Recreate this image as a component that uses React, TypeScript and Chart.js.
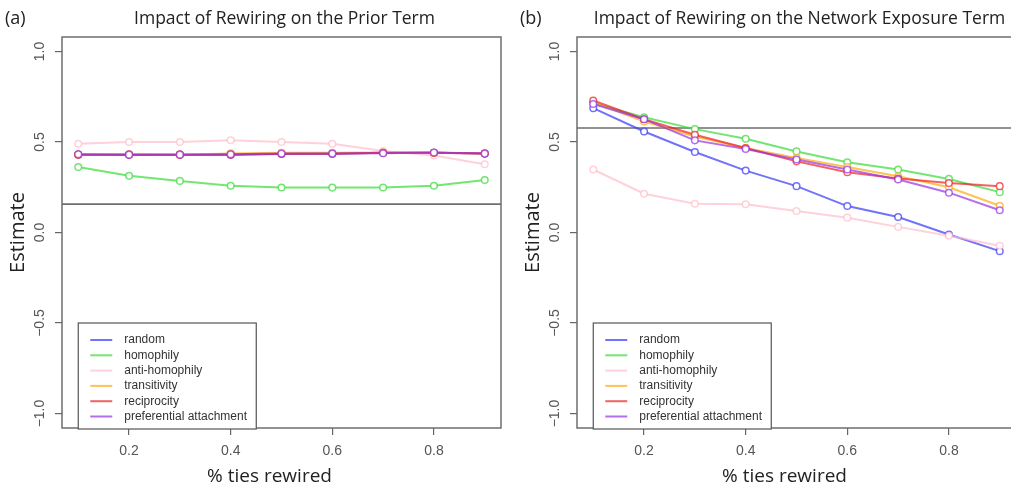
import React, { useEffect, useRef } from "react";
import { Chart, registerables } from "chart.js";

Chart.register(...registerables);

// ---------- data ----------
const xValues = [0.1, 0.2, 0.3, 0.4, 0.5, 0.6, 0.7, 0.8, 0.9];
const xTickValues = [0.2, 0.4, 0.6, 0.8];
const xTickLabels = ["0.2", "0.4", "0.6", "0.8"];
const yTickValues = [-1.0, -0.5, 0.0, 0.5, 1.0];
const yTickLabels = ["\u22121.0", "\u22120.5", "0.0", "0.5", "1.0"];
const seriesNames = [
  "random",
  "homophily",
  "anti-homophily",
  "transitivity",
  "reciprocity",
  "preferential attachment",
];
const seriesColors = [
  "rgba(60,60,250,0.72)",
  "rgba(60,220,60,0.72)",
  "rgba(255,185,198,0.65)",
  "rgba(255,170,20,0.72)",
  "rgba(240,30,30,0.7)",
  "rgba(150,50,230,0.7)",
];

// Panel (a): prior term
const priorRandom = [0.43, 0.43, 0.43, 0.43, 0.435, 0.435, 0.44, 0.44, 0.436];
const priorHomophily = [0.362, 0.313, 0.285, 0.258, 0.249, 0.248, 0.249, 0.258, 0.29];
const priorAntiHomophily = [0.49, 0.5, 0.5, 0.51, 0.5, 0.49, 0.45, 0.425, 0.377];
const priorTransitivity = [0.43, 0.432, 0.43, 0.437, 0.44, 0.44, 0.442, 0.44, 0.437];
const priorReciprocity = [0.43, 0.43, 0.43, 0.43, 0.434, 0.435, 0.44, 0.44, 0.436];
const priorPreferential = [0.432, 0.43, 0.43, 0.432, 0.436, 0.436, 0.438, 0.442, 0.436];
const priorReference = 0.157;

// Panel (b): network exposure term
const exposureRandom = [0.687, 0.558, 0.445, 0.342, 0.256, 0.146, 0.086, -0.011, -0.103];
const exposureHomophily = [0.714, 0.637, 0.571, 0.518, 0.448, 0.388, 0.348, 0.296, 0.223];
const exposureAntiHomophily = [0.348, 0.214, 0.159, 0.156, 0.119, 0.082, 0.031, -0.018, -0.073];
const exposureTransitivity = [0.72, 0.613, 0.53, 0.467, 0.412, 0.362, 0.311, 0.25, 0.148];
const exposureReciprocity = [0.729, 0.626, 0.54, 0.467, 0.393, 0.333, 0.298, 0.273, 0.256];
const exposurePreferential = [0.71, 0.626, 0.509, 0.461, 0.403, 0.348, 0.293, 0.22, 0.123];
const exposureReference = 0.577;

const xMin = 0.068;
const xMax = 0.932;
const yMin = -1.08;
const yMax = 1.08;
const legendAnchorX = 0.1;
const legendAnchorY = -0.5;

const titleFont = "'Open Sans', 'DejaVu Sans', sans-serif";
const tickFont = "'Liberation Sans', Arial, sans-serif";

type Panel = {
  tag: string;
  title: string;
  series: number[][];
  reference: number;
  left: number;
};

const panels: Panel[] = [
  {
    tag: "(a)",
    title: "Impact of Rewiring on the Prior Term",
    series: [priorRandom, priorHomophily, priorAntiHomophily, priorTransitivity, priorReciprocity, priorPreferential],
    reference: priorReference,
    left: 0,
  },
  {
    tag: "(b)",
    title: "Impact of Rewiring on the Network Exposure Term",
    series: [
      exposureRandom,
      exposureHomophily,
      exposureAntiHomophily,
      exposureTransitivity,
      exposureReciprocity,
      exposurePreferential,
    ],
    reference: exposureReference,
    left: 515,
  },
];

const CANVAS_W = 510;
const CANVAS_H = 489;

function makePlugin(panel: Panel) {
  return {
    id: "rStyle",
    beforeDatasetsDraw(chart: any) {
      const { ctx, chartArea: a, scales } = chart;
      const py = scales.y.getPixelForValue(panel.reference);
      ctx.save();
      ctx.strokeStyle = "#6e6e6e";
      ctx.lineWidth = 1.6;
      ctx.beginPath();
      ctx.moveTo(a.left, py);
      ctx.lineTo(a.right, py);
      ctx.stroke();
      ctx.restore();
    },
    afterDraw(chart: any) {
      const { ctx, chartArea: a, scales } = chart;
      ctx.save();
      // box
      ctx.strokeStyle = "#6e6e6e";
      ctx.lineWidth = 1.5;
      ctx.strokeRect(a.left, a.top, a.right - a.left, a.bottom - a.top);

      // y tick labels (rotated, R style)
      ctx.fillStyle = "#555";
      ctx.font = `14px ${tickFont}`;
      ctx.textAlign = "center";
      ctx.textBaseline = "middle";
      yTickValues.forEach((v, i) => {
        const py = scales.y.getPixelForValue(v);
        ctx.save();
        ctx.translate(a.left - 22, py);
        ctx.rotate(-Math.PI / 2);
        ctx.fillText(yTickLabels[i], 0, 0);
        ctx.restore();
      });

      // y axis title
      ctx.fillStyle = "#222";
      ctx.font = `20px ${titleFont}`;
      ctx.save();
      ctx.translate(a.left - 44, (a.top + a.bottom) / 2);
      ctx.rotate(-Math.PI / 2);
      ctx.fillText("Estimate", 0, 0);
      ctx.restore();

      // x axis title
      ctx.font = `19px ${titleFont}`;
      ctx.textBaseline = "alphabetic";
      ctx.fillText("% ties rewired", (a.left + a.right) / 2 - 12, 482);

      // main title
      ctx.font = `17.5px ${titleFont}`;
      ctx.fillText(panel.title, (a.left + a.right) / 2 + 3, 24);

      // panel tag
      ctx.textAlign = "left";
      ctx.font = `18px ${titleFont}`;
      ctx.fillText(panel.tag, a.left - 57, 24);

      // legend
      const lx = scales.x.getPixelForValue(legendAnchorX);
      const ly = scales.y.getPixelForValue(legendAnchorY);
      const lw = 178;
      const lh = 106;
      ctx.fillStyle = "#fff";
      ctx.fillRect(lx, ly, lw, lh);
      ctx.strokeStyle = "#555";
      ctx.lineWidth = 1.2;
      ctx.strokeRect(lx, ly, lw, lh);
      ctx.font = `12px ${tickFont}`;
      ctx.textBaseline = "middle";
      seriesNames.forEach((name, i) => {
        const ry = ly + 17 + i * 15.3;
        ctx.strokeStyle = seriesColors[i];
        ctx.lineWidth = 2;
        ctx.beginPath();
        ctx.moveTo(lx + 12, ry);
        ctx.lineTo(lx + 34, ry);
        ctx.stroke();
        ctx.fillStyle = "#333";
        ctx.fillText(name, lx + 46, ry);
      });
      ctx.restore();
    },
  };
}

function PanelChart({ panel }: { panel: Panel }) {
  const ref = useRef<HTMLCanvasElement | null>(null);
  useEffect(() => {
    if (!ref.current) return;
    const datasets = panel.series.map((values, i) => ({
      label: seriesNames[i],
      data: values.map((v, j) => ({ x: xValues[j], y: v })),
      borderColor: seriesColors[i],
      backgroundColor: "#ffffff",
      pointBorderColor: seriesColors[i],
      pointBackgroundColor: "#ffffff",
      borderWidth: 2,
      pointRadius: 3.3,
      pointBorderWidth: 1.5,
      tension: 0,
      order: seriesNames.length - i,
    }));
    const chart = new Chart(ref.current, {
      type: "line",
      data: { datasets },
      options: {
        animation: false,
        responsive: false,
        layout: { padding: { top: 37, right: CANVAS_W - 501, left: 0, bottom: 0 } },
        plugins: { legend: { display: false }, tooltip: { enabled: false } },
        scales: {
          x: {
            type: "linear",
            min: xMin,
            max: xMax,
            afterBuildTicks: (s: any) => {
              s.ticks = xTickValues.map((value) => ({ value }));
            },
            afterFit: (s: any) => {
              s.height = CANVAS_H - 428;
            },
            border: { display: false },
            grid: { drawOnChartArea: false, drawTicks: true, tickLength: 7, color: "#666", lineWidth: 1.2 },
            ticks: {
              callback: (_v: any, i: number) => xTickLabels[i],
              color: "#555",
              font: { size: 14, family: tickFont },
              padding: 8,
              maxRotation: 0,
              minRotation: 0,
            },
          },
          y: {
            type: "linear",
            min: yMin,
            max: yMax,
            afterBuildTicks: (s: any) => {
              s.ticks = yTickValues.map((value) => ({ value }));
            },
            afterFit: (s: any) => {
              s.width = 62;
            },
            border: { display: false },
            grid: { drawOnChartArea: false, drawTicks: true, tickLength: 7, color: "#666", lineWidth: 1.2 },
            ticks: { display: false },
          },
        },
      } as any,
      plugins: [makePlugin(panel)],
    });
    return () => chart.destroy();
  }, [panel]);
  return (
    <canvas
      ref={ref}
      width={CANVAS_W}
      height={CANVAS_H}
      style={{ position: "absolute", left: panel.left, top: 0, width: CANVAS_W, height: CANVAS_H }}
    />
  );
}

export default function App() {
  return (
    <div
      style={{
        position: "fixed",
        left: 0,
        top: 0,
        width: 1011,
        height: 489,
        overflow: "hidden",
        background: "#fff",
      }}
    >
      {panels.map((p) => (
        <PanelChart key={p.tag} panel={p} />
      ))}
    </div>
  );
}
